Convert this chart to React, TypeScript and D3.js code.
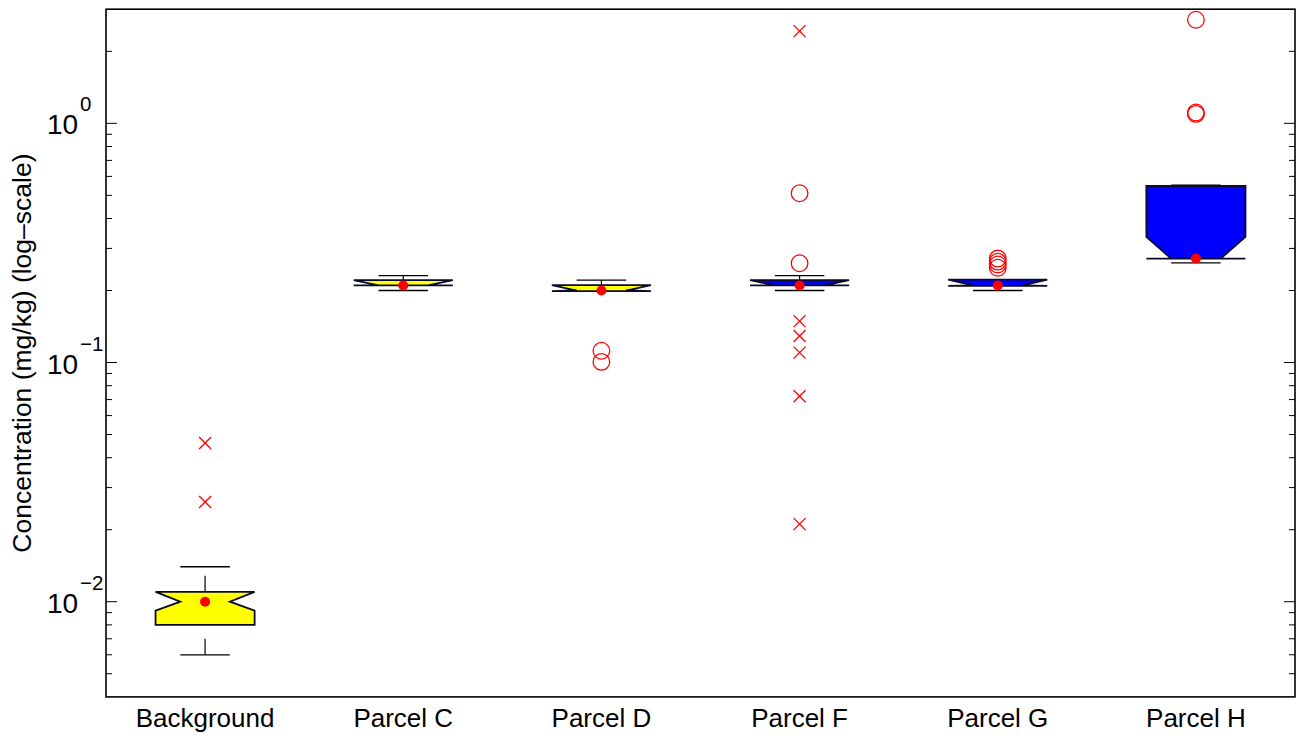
import React from "react";
import * as d3 from "d3";

const categories = ["Background", "Parcel C", "Parcel D", "Parcel F", "Parcel G", "Parcel H"];
const lowerWhisker = [0.006, 0.2, 0.2, 0.2, 0.2, 0.261];
const q1 = [0.008, 0.21, 0.199, 0.21, 0.209, 0.272];
const medians = [0.01, 0.21, 0.2, 0.21, 0.21, 0.272];
const q3 = [0.011, 0.221, 0.2105, 0.221, 0.222, 0.547];
const upperWhisker = [0.014, 0.231, 0.221, 0.231, 0.222, 0.552];
const notchLow = [0.00917, 0.21, 0.199, 0.21, 0.209, 0.272];
const notchHigh = [0.011, 0.221, 0.2105, 0.221, 0.222, 0.335];
const boxColors = ["#ffff00", "#ffff00", "#ffff00", "#0000ff", "#0000ff", "#0000ff"];

const outlierCat = ["Background", "Background", "Parcel D", "Parcel D", "Parcel F", "Parcel F", "Parcel F", "Parcel F", "Parcel F", "Parcel F", "Parcel F", "Parcel F", "Parcel G", "Parcel G", "Parcel G", "Parcel G", "Parcel H", "Parcel H", "Parcel H"];
const outlierVal = [0.0461, 0.0261, 0.112, 0.1006, 2.43, 0.51, 0.26, 0.149, 0.129, 0.11, 0.0723, 0.0211, 0.272, 0.264, 0.257, 0.249, 2.71, 1.11, 1.095];
const outlierShape = ["x", "x", "o", "o", "x", "o", "o", "x", "x", "x", "x", "x", "o", "o", "o", "o", "o", "o", "o"];

const yDomain = [0.004, 3];
const majorTicks = [0.01, 0.1, 1];
const majorExp = ["\u22122", "\u22121", "0"];

const W = 1298, H = 738;
const L = 106, R = 1295, T = 9.2, B = 696.9;

export default function App() {
  const x = d3.scaleBand().domain(categories).range([L, R]).paddingInner(0).paddingOuter(0);
  const y = d3.scaleLog().domain(yDomain).range([B, T]);
  const bw = x.bandwidth();
  const hw = bw * 0.25; // half box width
  const minor: number[] = [];
  for (let e = -3; e <= 0; e++) {
    for (let m = 2; m <= 9; m++) {
      const v = m * Math.pow(10, e);
      if (v > yDomain[0] && v < yDomain[1]) minor.push(v);
    }
  }
  const font = "'Liberation Sans', Arial, Helvetica, sans-serif";
  return (
    <svg width={W} height={H} style={{ position: "fixed", left: 0, top: 0, background: "#fff" }} fontFamily={font}>
      <rect x={0} y={0} width={W} height={H} fill="#fff" />
      {minor.map((v, i) => (
        <g key={"m" + i} stroke="#000" strokeWidth={1}>
          <line x1={L} x2={L + 6} y1={y(v)} y2={y(v)} />
          <line x1={R} x2={R - 6} y1={y(v)} y2={y(v)} />
        </g>
      ))}
      {majorTicks.map((v, i) => (
        <g key={"M" + i}>
          <line x1={L} x2={L + 11} y1={y(v)} y2={y(v)} stroke="#000" strokeWidth={1} />
          <line x1={R} x2={R - 11} y1={y(v)} y2={y(v)} stroke="#000" strokeWidth={1} />
          <text x={47} y={y(v) + 11} fontSize={28} fill="#000">10</text>
          <text x={80} y={y(v) - 12} fontSize={20.5} fill="#000">{majorExp[i]}</text>
        </g>
      ))}
      {categories.map((c, i) => {
        const cx = x(c)! + bw / 2;
        const yq1 = y(q1[i]), yq3 = y(q3[i]), ym = y(medians[i]);
        const ynl = y(notchLow[i]), ynh = y(notchHigh[i]);
        const pts: [number, number][] = [
          [cx - hw, yq3], [cx - hw, ynh], [cx - hw / 2, ym], [cx - hw, ynl], [cx - hw, yq1],
          [cx + hw, yq1], [cx + hw, ynl], [cx + hw / 2, ym], [cx + hw, ynh], [cx + hw, yq3],
        ];
        const yl = y(lowerWhisker[i]), yu = y(upperWhisker[i]);
        return (
          <g key={c}>
            <line x1={cx} x2={cx} y1={yl} y2={yq1} stroke="#000" strokeWidth={1.2} strokeDasharray="16 14" />
            <line x1={cx} x2={cx} y1={yq3} y2={yu} stroke="#000" strokeWidth={1.2} strokeDasharray="16 14" />
            <line x1={cx - hw / 2} x2={cx + hw / 2} y1={yl} y2={yl} stroke="#000" strokeWidth={1.3} />
            <line x1={cx - hw / 2} x2={cx + hw / 2} y1={yu} y2={yu} stroke="#000" strokeWidth={1.3} />
            <polygon points={pts.map((p) => p.join(",")).join(" ")} fill={boxColors[i]} stroke="#0a0a2a" strokeWidth={1.8} strokeLinejoin="miter" />
            <circle cx={cx} cy={ym} r={5} fill="#ff0000" />
            <text x={cx} y={727} fontSize={26} textAnchor="middle" fill="#000">{c}</text>
          </g>
        );
      })}
      {outlierVal.map((v, i) => {
        const cx = x(outlierCat[i])! + bw / 2;
        const cy = y(v);
        if (outlierShape[i] === "x") {
          const s = 6;
          return (
            <g key={"o" + i} stroke="#ff0000" strokeWidth={1.3}>
              <line x1={cx - s} x2={cx + s} y1={cy - s} y2={cy + s} />
              <line x1={cx - s} x2={cx + s} y1={cy + s} y2={cy - s} />
            </g>
          );
        }
        return <circle key={"o" + i} cx={cx} cy={cy} r={8.3} fill="none" stroke="#ff0000" strokeWidth={1.3} />;
      })}
      <rect x={L} y={T} width={R - L} height={B - T} fill="none" stroke="#000" strokeWidth={1.6} />
      <text transform={`translate(31,${(T + B) / 2}) rotate(-90)`} fontSize={26.5} textAnchor="middle" fill="#000">
        Concentration (mg/kg) (log{"\u2013"}scale)
      </text>
    </svg>
  );
}
